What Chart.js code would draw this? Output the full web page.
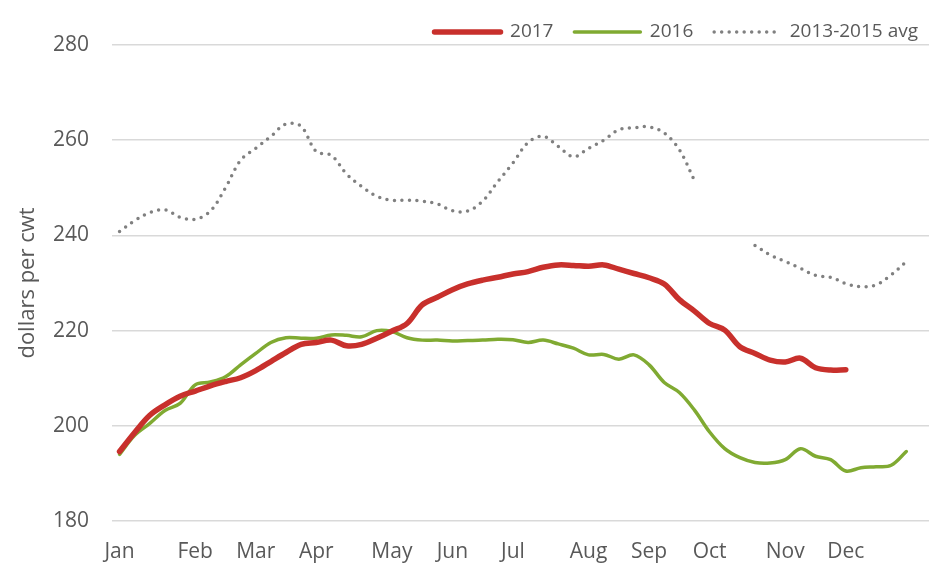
<!DOCTYPE html>
<html>
<head>
<meta charset="utf-8">
<script src="https://cdn.jsdelivr.net/npm/chart.js@4.4.1/dist/chart.umd.min.js"></script>
<style>
  html, body { margin: 0; padding: 0; background: #fff; }
  #wrap { width: 940px; height: 566px; }
</style>
</head>
<body>
<div id="wrap"><canvas id="priceChart" width="940" height="566"></canvas></div>
<script>
// weekly categories, month name on the first week of each month
const weekLabels = [
  'Jan', '', '', '', '', 'Feb', '', '', '', 'Mar', '', '', '', 'Apr', '', '', '', '',
  'May', '', '', '', 'Jun', '', '', '', 'Jul', '', '', '', '', 'Aug', '', '', '',
  'Sep', '', '', '', 'Oct', '', '', '', '', 'Nov', '', '', '', 'Dec', '', '', '', '', ''
];

const price2017 = [
  194.6, 198.6, 202.2, 204.4, 206.2, 207.3, 208.4, 209.3, 210.1, 211.6,
  213.5, 215.4, 217.1, 217.5, 218.0, 216.8, 217.1, 218.4, 219.9, 221.5,
  225.4, 227.0, 228.6, 229.8, 230.6, 231.2, 231.9, 232.4, 233.3, 233.8,
  233.7, 233.5, 233.8, 232.9, 232.0, 231.1, 229.8, 226.5, 224.1, 221.5,
  220.1, 216.6, 215.2, 213.8, 213.4, 214.2, 212.2, 211.7, 211.8
];

const price2016 = [
  194.0, 198.0, 200.5, 203.2, 204.7, 208.6, 209.2, 210.3, 212.8, 215.2,
  217.5, 218.5, 218.4, 218.4, 219.1, 219.0, 218.7, 220.0, 219.8, 218.5,
  218.0, 218.0, 217.8, 217.9, 218.0, 218.2, 218.1, 217.5, 218.0, 217.2,
  216.3, 214.9, 215.0, 214.0, 214.9, 212.8, 209.1, 207.0, 203.3, 198.7,
  195.2, 193.3, 192.3, 192.2, 192.9, 195.2, 193.6, 192.9, 190.5, 191.2,
  191.4, 191.7, 194.6
];

const avg2013_2015 = [
  240.8, 243.1, 244.8, 245.4, 243.8, 243.4, 245.1, 250.0, 255.8, 258.3,
  260.8, 263.4, 262.9, 257.6, 256.8, 252.9, 250.3, 248.2, 247.4, 247.4,
  247.2, 246.6, 245.2, 245.1, 247.2, 251.3, 255.2, 259.5, 260.8, 258.7,
  256.5, 258.3, 260.0, 262.2, 262.6, 262.8, 261.5, 258.0, 251.5, null,
  null, null, 237.9, 235.9, 234.5, 233.1, 231.6, 231.2, 229.9, 229.2,
  229.6, 231.7, 234.5
];

const textColor = '#595959';
const gridColor = '#d9d9d9';

Chart.defaults.font.family = '"Open Sans", sans-serif';
Chart.defaults.color = textColor;

// fixed legend band height so the plot starts right under it
const legendBand = {
  id: 'legendBand',
  afterInit(chart) {
    const fit = chart.legend.fit;
    chart.legend.fit = function () {
      fit.call(this);
      this.height = 33.5;
    };
  }
};

new Chart(document.getElementById('priceChart'), {
  type: 'line',
  data: {
    labels: weekLabels,
    datasets: [
      {
        label: '2017',
        data: price2017,
        borderColor: '#c8302c',
        backgroundColor: '#c8302c',
        borderWidth: 5.5,
        borderCapStyle: 'round',
        borderJoinStyle: 'round',
        tension: 0.35,
        pointRadius: 0
      },
      {
        label: '2016',
        data: price2016,
        borderColor: '#80aa32',
        backgroundColor: '#80aa32',
        borderWidth: 3.5,
        borderCapStyle: 'round',
        tension: 0.35,
        pointRadius: 0
      },
      {
        label: '2013-2015 avg',
        data: avg2013_2015,
        borderColor: '#808080',
        backgroundColor: '#808080',
        borderWidth: 3.5,
        borderDash: [0, 7.5],
        borderCapStyle: 'round',
        tension: 0.35,
        pointRadius: 0,
        spanGaps: false
      }
    ]
  },
  options: {
    responsive: false,
    animation: false,
    devicePixelRatio: 1,
    layout: { padding: { top: 11.5, right: 11, left: 0, bottom: 0 } },
    plugins: {
      legend: {
        position: 'top',
        align: 'end',
        labels: {
          usePointStyle: true,
          pointStyle: 'line',
          pointStyleWidth: 66,
          padding: 11,
          color: textColor,
          font: { size: 19 },
          generateLabels: (chart) => {
            const items = Chart.defaults.plugins.legend.labels.generateLabels(chart);
            items.forEach((it, i) => {
              const ds = chart.data.datasets[it.datasetIndex];
              it.lineDash = ds.borderDash || [];
              it.lineCap = ds.borderCapStyle || 'butt';
              it.lineWidth = ds.borderWidth;
              if (i < items.length - 1) it.text += '  ';
            });
            return items;
          }
        }
      },
      tooltip: { enabled: false }
    },
    scales: {
      x: {
        type: 'category',
        offset: true,
        grid: { display: false, drawTicks: false },
        border: { display: false },
        ticks: {
          autoSkip: false,
          maxRotation: 0,
          minRotation: 0,
          padding: 18,
          font: { size: 21 },
          color: textColor
        },
        afterFit: (scale) => { scale.height = 45; }
      },
      y: {
        min: 180,
        max: 280,
        ticks: { stepSize: 20, padding: 23, font: { size: 21 }, color: textColor },
        grid: { color: gridColor, lineWidth: 1.5, drawTicks: false },
        border: { display: false },
        title: {
          display: true,
          text: 'dollars per cwt',
          color: textColor,
          font: { size: 22 },
          padding: { top: 15, bottom: 0 }
        },
        afterFit: (scale) => { scale.width = 112; }
      }
    }
  },
  plugins: [legendBand]
});
</script>
</body>
</html>
